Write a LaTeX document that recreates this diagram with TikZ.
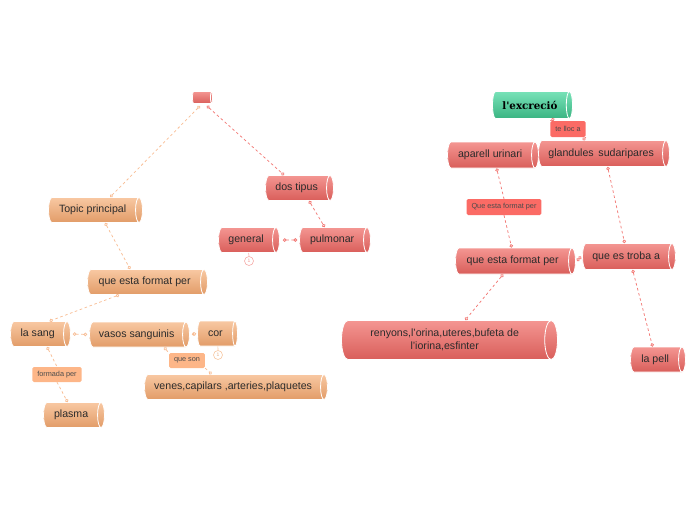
\documentclass[tikz,border=0pt]{standalone}
\usepackage{fontspec}
\setmainfont{Liberation Sans}
\newfontfamily\titlefont{DejaVu Serif}
\usetikzlibrary{shapes.geometric,arrows.meta}
\definecolor{rtop}{HTML}{F49692}
\definecolor{rbot}{HTML}{D95E5A}
\definecolor{otop}{HTML}{F8C8A2}
\definecolor{obot}{HTML}{E29C68}
\definecolor{gtop}{HTML}{78E2B8}
\definecolor{gbot}{HTML}{3AB482}
\definecolor{rline}{HTML}{F27A76}
\definecolor{oline}{HTML}{F8BE96}
\definecolor{rlab}{HTML}{FB6B65}
\definecolor{olab}{HTML}{FDB688}
\definecolor{txt}{HTML}{2B2B2B}
\begin{document}
\begin{tikzpicture}[x=1pt,y=-1pt,
  nodelen/.style={minimum height=#1},
  nodethick/.style={minimum width=#1},
  cyl/.style={cylinder, shape aspect=0.5, anchor=shape center, draw=white, line width=0.8pt,
    nodethick=25pt, font=\fontsize{10.6}{12.5}\selectfont, text=txt,
    inner xsep=4pt, inner ysep=2pt, align=center},
  rnode/.style={cyl, top color=rtop, bottom color=rbot},
  onode/.style={cyl, top color=otop, bottom color=obot},
  gnode/.style={cyl, top color=gtop, bottom color=gbot},
  lab/.style={rectangle, rounded corners=1.5pt, inner xsep=5pt, inner ysep=2pt,
    minimum height=15pt, font=\fontsize{7.3}{9}\selectfont, text=txt!85},
  rlabel/.style={lab, fill=rlab},
  olabel/.style={lab, fill=olab},
  con/.style={dashed, dash pattern=on 2.6pt off 2.6pt, line width=0.75pt},
  rcon/.style={con, draw=rline, {Circle[open,length=3.5pt,fill=white]}-{Circle[open,length=3.5pt,fill=white]}},
  ocon/.style={con, draw=oline, {Circle[open,length=3.5pt,fill=white]}-{Circle[open,length=3.5pt,fill=white]}},
  rconh/.style={con, draw=rline, {Circle[open,length=3.5pt,fill=white]}-},
  rcont/.style={con, draw=rline, -{Circle[open,length=3.5pt,fill=white]}},
  oconh/.style={con, draw=oline, {Circle[open,length=3.5pt,fill=white]}-},
  ocont/.style={con, draw=oline, -{Circle[open,length=3.5pt,fill=white]}},
  badge/.style={circle, draw, line width=0.6pt, fill=white, inner sep=0pt,
    minimum size=9pt, font=\fontsize{5}{5}\selectfont}
]
\useasboundingbox (0,0) rectangle (697,520);

% ---------- left map ----------
\node[rnode, nodelen=20pt, nodethick=12pt] (top) at (202.5,97.5) {};
\node[rnode, nodelen=68pt] (dostipus) at (299.5,188) {dos tipus};
\node[onode, nodelen=94pt] (topic) at (95.5,210) {Topic principal};
\node[rnode, nodelen=61pt] (general) at (249,240) {general};
\node[rnode, nodelen=71pt] (pulmonar) at (335,240) {pulmonar};
\node[onode, nodelen=120pt] (qefpA) at (147.5,282) {que esta format per};
\node[onode, nodelen=60pt] (lasang) at (40.5,334) {la sang};
\node[onode, nodelen=100pt] (vasos) at (139.5,334.5) {vasos sanguinis};
\node[onode, nodelen=40pt] (cor) at (217.5,333.5) {cor};
\node[olabel] (queson) at (187,360.5) {que son};
\node[onode, nodelen=183pt] (venes) at (236,387) {venes,capilars ,arteries,plaquetes};
\node[olabel] (formada) at (57,374.5) {formada per};
\node[onode, nodelen=61pt] (plasma) at (74,415) {plasma};

\node[badge, draw=rtop!80, text=rtop] (b1) at (249,261) {1};
\node[badge, draw=otop, text=obot!80] (b2) at (218,355) {1};

\draw[ocon] ([xshift=5pt,yshift=-2pt]top.south west) -- ([xshift=17.5pt]topic.north);
\draw[rcon] ([xshift=-1pt,yshift=-2pt]top.south east) -- ([xshift=-12.5pt]dostipus.north);
\draw[rcon] ([xshift=12.5pt]dostipus.south) -- ([xshift=-7.5pt]pulmonar.north);
\draw[rcon] ([xshift=-2pt]pulmonar.west) -- ([xshift=3pt]general.east);
\draw[ocon] ([xshift=12.5pt]topic.south) -- ([xshift=-14.5pt]qefpA.north);
\draw[ocon] ([xshift=-25.5pt]qefpA.south) -- ([xshift=-1pt]lasang.north east);
\draw[ocon] ([xshift=2pt]lasang.east) -- ([xshift=-2pt]vasos.west);
\draw[ocon] ([xshift=2pt]vasos.east) -- ([xshift=-1pt]cor.west);
\draw[oconh] ([xshift=27.5pt]vasos.south) -- (queson.north west);
\draw[ocont] (queson.south east) -- ([xshift=-21.5pt]venes.north);
\draw[oconh] ([xshift=9.5pt]lasang.south) -- (formada.north);
\draw[ocont] (formada.south) -- ([xshift=-3.5pt]plasma.north);
\draw[line width=0.6pt, draw=rtop!80] ([xshift=2.5pt]general.south) -- (b1.north);
\draw[line width=0.6pt, draw=otop] ([xshift=2.5pt]cor.south) -- (b2.north);

% ---------- right map ----------
\node[gnode, nodelen=80pt, nodethick=27pt, font=\titlefont\bfseries\fontsize{10.3}{12}\selectfont, text=black] (excrecio) at (532.5,105) {l'excreció};
\node[rnode, nodelen=91pt, nodethick=26pt] (aparell) at (493,155) {aparell urinari};
\node[rnode, nodelen=131pt, nodethick=26pt] (glandules) at (604,153.5) {glandules\, sudaripares};
\node[rlabel, minimum height=16pt] (telloc) at (568,129) {te lloc a};
\node[rlabel, minimum height=16pt] (qefplab) at (504,207) {Que esta format per};
\node[rnode, nodelen=120pt, nodethick=26pt] (qefpB) at (515.5,261) {que esta format per};
\node[rnode, nodelen=93pt, nodethick=26pt] (troba) at (629,256.5) {que es troba a};
\node[rnode, nodelen=216pt, nodethick=39pt] (renyons) at (449.5,340) {renyons,l'orina,uteres,bufeta de\\l'iorina,esfinter};
\node[rnode, nodelen=55pt] (lapell) at (658,359.5) {la pell};

\draw[rconh] ([xshift=24.5pt]excrecio.south) -- (telloc.north west);
\draw[rcont] (telloc.south east) -- ([xshift=-18.5pt]glandules.north);
\draw[rconh] ([xshift=6.5pt]aparell.south) -- (qefplab.north);
\draw[rcont] (qefplab.south) -- ([xshift=-1pt]qefpB.north);
\draw[rcon] ([xshift=6.5pt]glandules.south) -- ([xshift=-1.5pt]troba.north);
\draw[rcon] ([xshift=1pt]qefpB.east) -- ([xshift=-1pt]troba.west);
\draw[rcon] ([xshift=-9.5pt]qefpB.south) -- ([xshift=20.5pt]renyons.north);
\draw[rcon] ([xshift=6.5pt]troba.south) -- ([xshift=-2.5pt]lapell.north);
\end{tikzpicture}
\end{document}
